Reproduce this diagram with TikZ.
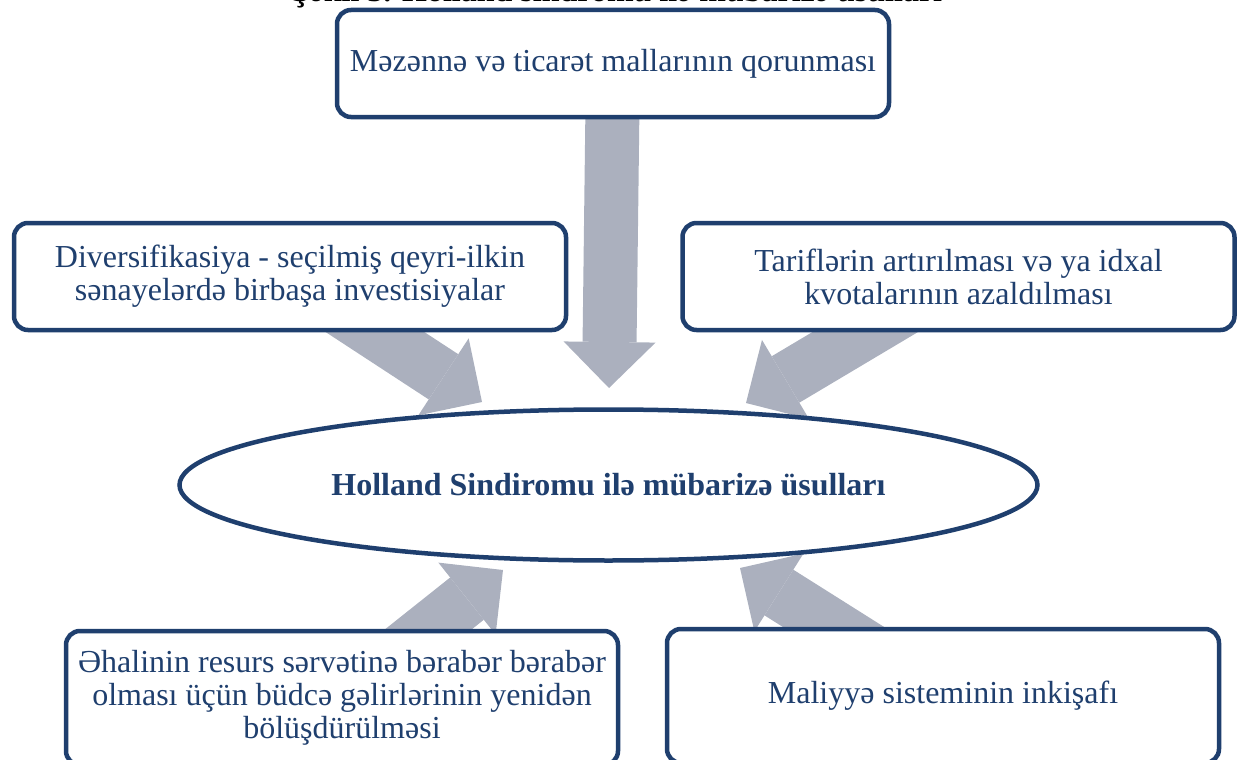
\documentclass[tikz,border=0pt]{standalone}
\usepackage{fontspec}
\setmainfont{Liberation Serif}
\usetikzlibrary{arrows.meta,shapes.geometric}
\definecolor{navy}{HTML}{1F3F6E}
\definecolor{arrowgray}{HTML}{ABB0BE}
\pgfdeclarelayer{bg}
\pgfsetlayers{bg,main}
\begin{document}
\begin{tikzpicture}[x=1pt,y=-1pt,
  box/.style={draw=navy, line width=4.5pt, rounded corners=14pt, fill=white,
    text=navy, align=center, font=\fontsize{32}{33}\selectfont,
    minimum width=552pt, minimum height=107pt, inner sep=0pt},
  fat/.style={draw=arrowgray, line width=54pt,
    -{Triangle[width=92pt,length=46pt,line width=0pt]}},
  hub/.style={ellipse, draw=navy, line width=4.5pt, fill=white, text=navy,
    font=\bfseries\fontsize{32}{33}\selectfont,
    minimum width=858pt, minimum height=151pt, inner sep=0pt}]
\useasboundingbox (0,0) rectangle (1243,760);
\node[font=\bfseries\fontsize{32}{33}\selectfont, anchor=base] (title) at (617,1.5)
  {Şəkil 3. Holland sindromu ilə mübarizə üsulları};
\node[box] (top) at (613,63.5) {Məzənnə və ticarət mallarının qorunması};
\node[box] (left) at (290,276.5) {Diversifikasiya - seçilmiş qeyri-ilkin\\sənayelərdə birbaşa investisiyalar};
\node[box] (right) at (958.5,276.5) {Tariflərin artırılması və ya idxal\\kvotalarının azaldılması};
\node[box, minimum height=134pt] (bl) at (342,698) {Əhalinin resurs sərvətinə bərabər bərabər\\olması üçün büdcə gəlirlərinin yenidən\\bölüşdürülməsi};
\node[box, minimum height=134pt] (br) at (943,696) {Maliyyə sisteminin inkişafı};
\node[hub] (hub) at (608.5,485) {Holland Sindiromu ilə mübarizə üsulları};
\coordinate (tT) at (609,388);
\coordinate (tL) at (482,402);
\coordinate (tR) at (746,403);
\coordinate (tBL) at (503,570);
\coordinate (tBR) at (740,568);
\begin{pgfonlayer}{bg}
\draw[fat] (top.center) -- (tT);
\draw[fat] (left.center) -- (tL);
\draw[fat] (right.center) -- (tR);
\draw[fat] (bl.center) -- (tBL);
\draw[fat] (br.center) -- (tBR);
\end{pgfonlayer}
\end{tikzpicture}
\end{document}
